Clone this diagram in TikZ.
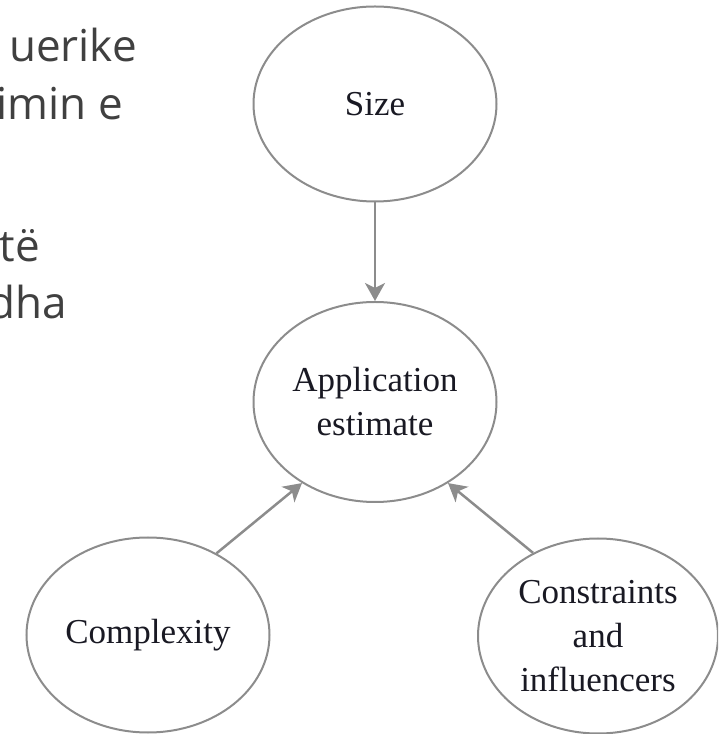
\documentclass[tikz,border=0pt]{standalone}
\usepackage{fontspec}
\setmainfont{Liberation Serif}
\newfontfamily\slidefont{Open Sans}
\usetikzlibrary{positioning,shapes.geometric,arrows.meta}
\definecolor{edgegray}{RGB}{140,140,140}
\definecolor{slidegray}{RGB}{64,64,64}
\definecolor{inkblack}{RGB}{25,25,35}
\tikzstyle{arrow} = [line width=2.5pt,draw=edgegray,-{Stealth[length=18pt,width=20pt,inset=5pt]},>=stealth]
\tikzstyle{bubble} = [ellipse,draw=edgegray,line width=2pt,inner sep=0pt,minimum width=243pt,minimum height=195pt,align=center,text=inkblack,font=\fontsize{35}{44}\selectfont]
\tikzstyle{slidetext} = [anchor=base east,inner sep=0pt,text=slidegray,font=\slidefont\fontsize{44}{57}\selectfont]

\begin{document}
\begin{tikzpicture}[x=1pt,y=1pt]
    \useasboundingbox (0,0) rectangle (718,734);
    \clip (0,0) rectangle (718,734);

    % slide text cut at the left edge
    \node (line1) [slidetext] at (137,672) {uerike};
    \node (line2) [slidetext] at (123,614) {imin e};
    \node (line3) [slidetext] at (40,472) {të};
    \node (line4) [slidetext] at (67,415) {dha};

    \node (size) [bubble] at (375,630) {Size};

    \node (app) [bubble, minimum height=200pt] at (375,332) {Application\\estimate};
    \draw [arrow] (size) -- (app);

    \node (cplx) [bubble] at (148,99) {Complexity};
    \draw [arrow] (cplx.50) -- (app.228);

    \node (cons) [bubble, minimum width=240pt] at (598,98) {Constraints\\and\\influencers};
    \draw [arrow] (cons.128) -- (app.312);
\end{tikzpicture}
\end{document}
